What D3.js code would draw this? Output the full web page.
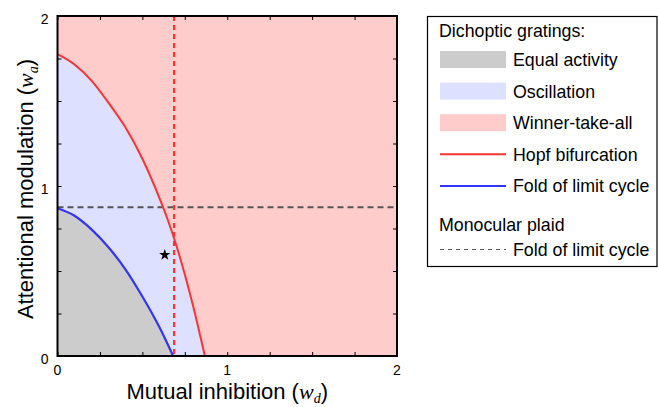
<!DOCTYPE html>
<html>
<head>
<meta charset="utf-8">
<script src="https://cdn.jsdelivr.net/npm/d3@7"></script>
<style>
  html, body { margin: 0; padding: 0; background: #fff; }
  svg { display: block; font-family: "Liberation Sans", Arial, Helvetica, sans-serif; }
</style>
</head>
<body>
<svg id="chart" width="658" height="407"></svg>
<script>
// Parameter space: mutual inhibition (w_d) vs attentional modulation (w_a)
const xDomain = [0, 2];
const yDomain = [0, 2];
const xTickLabels = [0, 1, 2];
const yTickLabels = [0, 1, 2];
const minorTicks = [0, 0.25, 0.5, 0.75, 1, 1.25, 1.5, 1.75, 2];

// Hopf bifurcation boundary (dichoptic gratings)
const hopfX = [0, 0.1, 0.2, 0.3, 0.4, 0.5, 0.6, 0.65, 0.7, 0.75, 0.8, 0.868];
const hopfY = [1.776, 1.715, 1.62, 1.49, 1.345, 1.16, 0.93, 0.80, 0.65, 0.48, 0.29, 0];

// Fold of limit cycle boundary (dichoptic gratings)
const foldX = [0, 0.1, 0.2, 0.3, 0.4, 0.5, 0.6, 0.681];
const foldY = [0.869, 0.825, 0.745, 0.64, 0.51, 0.35, 0.17, 0];

// Monocular plaid fold of limit cycle (horizontal) and the vertical red dashed boundary
const plaidFoldWa = 0.875;
const verticalWd = 0.687;

// Marked parameter set
const starPoint = [0.632, 0.595];

// Legend rows
const legendTitle1 = "Dichoptic gratings:";
const legendTitle2 = "Monocular plaid";
const legendItems = [
  { label: "Equal activity", kind: "rect", color: "#cccccc" },
  { label: "Oscillation", kind: "rect", color: "#dde0ff" },
  { label: "Winner-take-all", kind: "rect", color: "#ffcccc" },
  { label: "Hopf bifurcation", kind: "line", color: "#ff3333" },
  { label: "Fold of limit cycle", kind: "line", color: "#3333ff" }
];
const legendDashed = { label: "Fold of limit cycle", color: "#555555" };

const svg = d3.select("#chart");
const plot = { left: 57.5, right: 397, top: 16, bottom: 356 };

const x = d3.scaleLinear().domain(xDomain).range([plot.left, plot.right]);
const y = d3.scaleLinear().domain(yDomain).range([plot.bottom, plot.top]);

const clipId = "plotClip";
svg.append("defs").append("clipPath").attr("id", clipId)
  .append("rect")
  .attr("x", plot.left).attr("y", plot.top)
  .attr("width", plot.right - plot.left).attr("height", plot.bottom - plot.top);

const g = svg.append("g").attr("clip-path", `url(#${clipId})`);

// Regions: winner-take-all background, oscillation below Hopf, equal activity below fold
g.append("rect")
  .attr("x", x(xDomain[0])).attr("y", y(yDomain[1]))
  .attr("width", x(xDomain[1]) - x(xDomain[0]))
  .attr("height", y(yDomain[0]) - y(yDomain[1]))
  .attr("fill", legendItems[2].color);

const hopfPts = hopfX.map((v, i) => [v, hopfY[i]]);
const foldPts = foldX.map((v, i) => [v, foldY[i]]);

const curveLine = d3.line()
  .x(d => x(d[0])).y(d => y(d[1]))
  .curve(d3.curveMonotoneX);

const regionPath = pts => curveLine(pts) + `L${x(pts[pts.length - 1][0])},${y(0)}L${x(0)},${y(0)}Z`;

g.append("path").attr("d", regionPath(hopfPts)).attr("fill", legendItems[1].color);
g.append("path").attr("d", regionPath(foldPts)).attr("fill", legendItems[0].color);

// Monocular plaid fold (dark dashed)
g.append("line")
  .attr("x1", x(xDomain[0])).attr("x2", x(xDomain[1]))
  .attr("y1", y(plaidFoldWa)).attr("y2", y(plaidFoldWa))
  .attr("stroke", legendDashed.color).attr("stroke-width", 1.8)
  .attr("stroke-dasharray", "6,4");

// Vertical red dashed boundary
g.append("line")
  .attr("x1", x(verticalWd)).attr("x2", x(verticalWd))
  .attr("y1", y(yDomain[1])).attr("y2", y(yDomain[0]))
  .attr("stroke", "#ff3333").attr("stroke-width", 2.2)
  .attr("stroke-dasharray", "5,4");

// Boundary curves
g.append("path").attr("d", curveLine(hopfPts))
  .attr("fill", "none").attr("stroke", legendItems[3].color).attr("stroke-width", 2);
g.append("path").attr("d", curveLine(foldPts))
  .attr("fill", "none").attr("stroke", legendItems[4].color).attr("stroke-width", 2.2);

// Star marker
svg.append("path")
  .attr("d", d3.symbol().type(d3.symbolStar).size(40)())
  .attr("transform", `translate(${x(starPoint[0])},${y(starPoint[1])})`)
  .attr("fill", "#000");

// Axes: inward minor ticks on all four sides, labels at integers
const tickLen = 4;
const axisG = svg.append("g");
axisG.append("g").attr("transform", `translate(0,${plot.bottom})`)
  .call(d3.axisBottom(x).tickValues(minorTicks).tickSize(-tickLen).tickFormat(""));
axisG.append("g").attr("transform", `translate(0,${plot.top})`)
  .call(d3.axisTop(x).tickValues(minorTicks).tickSize(-tickLen).tickFormat(""));
axisG.append("g").attr("transform", `translate(${plot.left},0)`)
  .call(d3.axisLeft(y).tickValues(minorTicks).tickSize(-tickLen).tickFormat(""));
axisG.append("g").attr("transform", `translate(${plot.right},0)`)
  .call(d3.axisRight(y).tickValues(minorTicks).tickSize(-tickLen).tickFormat(""));
axisG.selectAll(".domain").remove();
axisG.selectAll(".tick line").attr("stroke", "#000").attr("stroke-width", 1);

// Frame
svg.append("rect")
  .attr("x", plot.left).attr("y", plot.top)
  .attr("width", plot.right - plot.left).attr("height", plot.bottom - plot.top)
  .attr("fill", "none").attr("stroke", "#000").attr("stroke-width", 2);

// Tick labels
svg.append("g").selectAll("text").data(xTickLabels).join("text")
  .attr("x", d => x(d)).attr("y", plot.bottom + 19)
  .attr("text-anchor", "middle").attr("font-size", 14).text(d => d);
svg.append("g").selectAll("text").data(yTickLabels).join("text")
  .attr("x", plot.left - 9).attr("y", d => y(d) + 8)
  .attr("text-anchor", "end").attr("font-size", 14).text(d => d);

// Axis titles
const serif = "'Liberation Serif', 'Times New Roman', serif";
const xTitle = svg.append("text")
  .attr("x", (plot.left + plot.right) / 2).attr("y", 399)
  .attr("text-anchor", "middle").attr("font-size", 22);
xTitle.append("tspan").text("Mutual inhibition (");
xTitle.append("tspan").attr("font-style", "italic").attr("font-family", serif).text("w");
xTitle.append("tspan").attr("font-style", "italic").attr("font-size", 14)
  .attr("font-family", serif).attr("dy", 4).text("d");
xTitle.append("tspan").attr("dy", -4).text(")");

const yTitle = svg.append("text")
  .attr("transform", `translate(33,${(plot.top + plot.bottom) / 2 + 3}) rotate(-90)`)
  .attr("text-anchor", "middle").attr("font-size", 22);
yTitle.append("tspan").text("Attentional modulation (");
yTitle.append("tspan").attr("font-style", "italic").attr("font-family", serif).text("w");
yTitle.append("tspan").attr("font-style", "italic").attr("font-size", 14)
  .attr("font-family", serif).attr("dy", 5).text("a");
yTitle.append("tspan").attr("dy", -5).text(")");

// Legend
const lg = svg.append("g");
lg.append("rect")
  .attr("x", 427.5).attr("y", 16.5).attr("width", 229.5).attr("height", 250)
  .attr("fill", "#fff").attr("stroke", "#000").attr("stroke-width", 1.2);

const lgFont = 17.8;
const keyX0 = 440, keyX1 = 506, textX = 513;
lg.append("text").attr("x", 439).attr("y", 37).attr("font-size", lgFont).text(legendTitle1);

const rowStep = 31.6;
const firstRow = 59.5;
legendItems.forEach((d, i) => {
  const cy = firstRow + i * rowStep;
  if (d.kind === "rect") {
    lg.append("rect").attr("x", keyX0).attr("y", cy - 8.5).attr("width", keyX1 - keyX0).attr("height", 17)
      .attr("fill", d.color);
  } else {
    lg.append("line").attr("x1", keyX0).attr("x2", keyX1).attr("y1", cy).attr("y2", cy)
      .attr("stroke", d.color).attr("stroke-width", 2);
  }
  lg.append("text").attr("x", textX).attr("y", cy + 6.5).attr("font-size", lgFont).text(d.label);
});

lg.append("text").attr("x", 439).attr("y", 230.5).attr("font-size", lgFont).text(legendTitle2);
lg.append("line").attr("x1", keyX0).attr("x2", keyX1).attr("y1", 249.5).attr("y2", 249.5)
  .attr("stroke", legendDashed.color).attr("stroke-width", 1.2).attr("stroke-dasharray", "4,4");
lg.append("text").attr("x", textX).attr("y", 256).attr("font-size", lgFont).text(legendDashed.label);
</script>
</body>
</html>
